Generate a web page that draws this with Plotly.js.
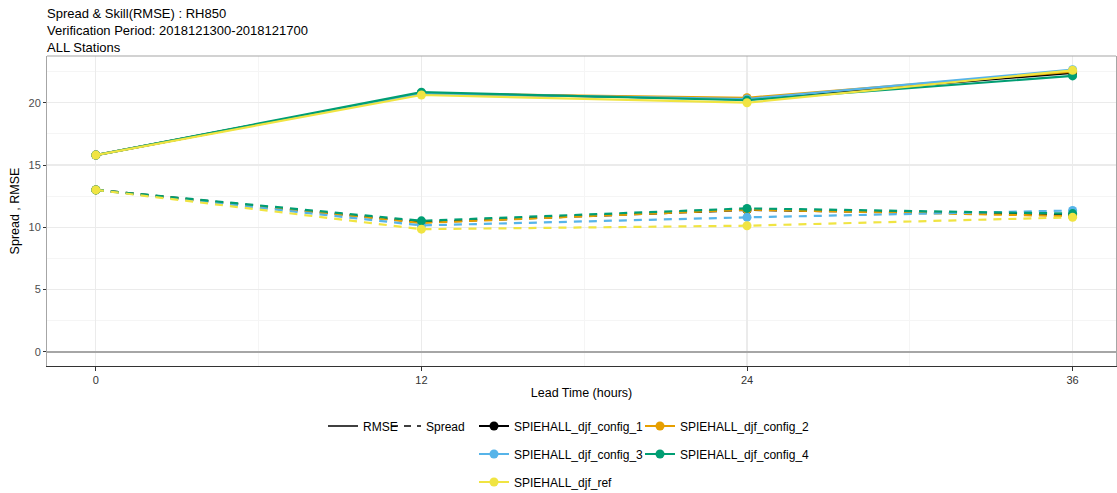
<!DOCTYPE html>
<html>
<head>
<meta charset="utf-8">
<script src="https://cdn.plot.ly/plotly-3.0.1.min.js"></script>
<style>html,body{margin:0;padding:0;background:#fff;}#chart{width:1117px;height:493px;}</style>
</head>
<body>
<div id="chart"></div>
<script>
// ---- data ----
const leadTimes = [0, 12, 24, 36];
const seriesNames = ["SPIEHALL_djf_config_1", "SPIEHALL_djf_config_2", "SPIEHALL_djf_config_3", "SPIEHALL_djf_config_4", "SPIEHALL_djf_ref"];
const rmse_config_1 = [15.8, 20.75, 20.3, 22.4];
const rmse_config_2 = [15.8, 20.75, 20.4, 22.5];
const rmse_config_3 = [15.8, 20.75, 20.3, 22.65];
const rmse_config_4 = [15.8, 20.85, 20.2, 22.15];
const rmse_ref      = [15.8, 20.62, 20.0, 22.6];
const spread_config_1 = [13.0, 10.4, 11.4, 11.0];
const spread_config_2 = [13.0, 10.35, 11.42, 10.9];
const spread_config_3 = [13.0, 10.15, 10.8, 11.35];
const spread_config_4 = [13.0, 10.52, 11.52, 11.1];
const spread_ref      = [13.0, 9.85, 10.13, 10.8];
const xTicks = [0, 12, 24, 36];
const yTicks = [0, 5, 10, 15, 20];

// ---- style ----
const colors = ["#000000", "#E69F00", "#56B4E9", "#009E73", "#F0E442"];
const rmseData = [rmse_config_1, rmse_config_2, rmse_config_3, rmse_config_4, rmse_ref];
const spreadData = [spread_config_1, spread_config_2, spread_config_3, spread_config_4, spread_ref];
const legendIds = ["legend3", "legend4", "legend5", "legend6", "legend7"];
const FONT = "Liberation Sans, Arial, sans-serif";

const traces = [];
// legend-only entries for line type
traces.push({x: [null], y: [null], type: "scatter", mode: "lines", name: "RMSE",
  line: {color: "#000", width: 1.6, dash: "solid"}, legend: "legend", hoverinfo: "skip"});
traces.push({x: [null], y: [null], type: "scatter", mode: "lines", name: "Spread",
  line: {color: "#000", width: 1.6, dash: "7px,6px"}, legend: "legend2", hoverinfo: "skip"});

for (let i = 0; i < seriesNames.length; i++) {
  traces.push({x: leadTimes, y: spreadData[i], type: "scatter", mode: "lines+markers",
    name: seriesNames[i], showlegend: false,
    line: {color: colors[i], width: 2.2, dash: "8px,7px"},
    marker: {color: colors[i], size: 9}});
}
for (let i = 0; i < seriesNames.length; i++) {
  traces.push({x: leadTimes, y: rmseData[i], type: "scatter", mode: "lines+markers",
    name: seriesNames[i], legend: legendIds[i],
    line: {color: colors[i], width: 2.2},
    marker: {color: colors[i], size: 9}});
}

const W = 1117, H = 493;
function leg(px, py) {
  return {xref: "container", yref: "container", x: px / W, y: 1 - py / H,
    xanchor: "left", yanchor: "middle", orientation: "h", bgcolor: "rgba(0,0,0,0)",
    font: {family: FONT, size: 12, color: "#000"}, itemwidth: 30, tracegroupgap: 0};
}

const layout = {
  width: W, height: H,
  paper_bgcolor: "#fff", plot_bgcolor: "#fff",
  margin: {l: 47, r: 1, t: 56, b: 127},
  font: {family: FONT},
  title: {text: "Spread & Skill(RMSE) : RH850<br>Verification Period: 2018121300-2018121700<br>ALL Stations",
    xref: "container", yref: "container", x: 47 / W, xanchor: "left", y: 1 - 18 / H, yanchor: "top",
    font: {family: FONT, size: 13, color: "#000"}},
  xaxis: {range: [-1.8, 37.6], tickvals: xTicks, ticktext: xTicks.map(String),
    showgrid: true, gridcolor: "#ebebeb", gridwidth: 1.2,
    minor: {dtick: 6, tick0: 0, showgrid: true, gridcolor: "#f5f5f5", gridwidth: 1, ticks: ""},
    zeroline: false, showline: true, linecolor: "#333", linewidth: 1.2,
    ticks: "outside", ticklen: 4, tickcolor: "#333", tickwidth: 1,
    tickfont: {family: FONT, size: 11, color: "#333333"},
    title: {text: "Lead Time (hours)", font: {family: FONT, size: 12.5, color: "#000"}, standoff: 2}},
  yaxis: {range: [-1.13, 23.75], tickvals: yTicks, ticktext: yTicks.map(String),
    showgrid: true, gridcolor: "#ebebeb", gridwidth: 1.2,
    minor: {dtick: 2.5, tick0: 0, showgrid: true, gridcolor: "#f5f5f5", gridwidth: 1, ticks: ""},
    zeroline: true, zerolinecolor: "#a6a6a6", zerolinewidth: 1.6,
    showline: true, linecolor: "#a6a6a6", linewidth: 1, mirror: true,
    ticks: "outside", ticklen: 3, tickcolor: "#333", tickwidth: 1,
    tickfont: {family: FONT, size: 11, color: "#4d4d4d"},
    title: {text: "Spread , RMSE", font: {family: FONT, size: 12.5, color: "#000"}, standoff: 6}},
  shapes: [{type: "line", xref: "paper", yref: "paper", x0: 0, x1: 1, y0: 1, y1: 1,
    line: {color: "#a6a6a6", width: 1.2}}],
  legend: leg(323, 426),
  legend2: leg(386, 426),
  legend3: leg(474, 426),
  legend4: leg(640, 426),
  legend5: leg(474, 454),
  legend6: leg(640, 454),
  legend7: leg(474, 482),
  hovermode: false
};

Plotly.newPlot("chart", traces, layout, {displayModeBar: false, staticPlot: true});
</script>
</body>
</html>
